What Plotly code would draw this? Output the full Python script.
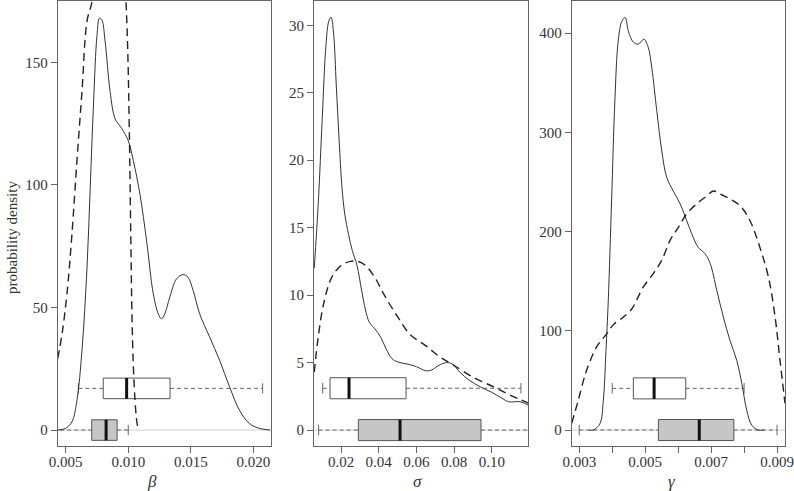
import plotly.graph_objects as go
from plotly.subplots import make_subplots

# beta panel
beta_solid_x = [0.00436, 0.0050, 0.0055, 0.0059, 0.0063, 0.0067, 0.00696, 0.00723, 0.0075, 0.0077,
                0.00789, 0.00815, 0.00855, 0.00895, 0.00948, 0.0100, 0.0104, 0.01094, 0.01147, 0.0120,
                0.0124, 0.01266, 0.01292, 0.01332, 0.01385, 0.01438, 0.01478, 0.01518, 0.01571, 0.0165,
                0.0173, 0.0181, 0.01889, 0.01968, 0.02048, 0.02135]
beta_solid_y = [0, 0.7, 3.4, 12.2, 32.5, 66, 99, 134, 161, 168,
                167.3, 158.5, 138, 127, 123, 118, 110, 96, 77, 55.6,
                47.4, 45.4, 47.4, 54.2, 61.6, 63.4, 62.3, 57, 47.4, 38,
                28.5, 17.6, 8.1, 2.7, 0.7, 0]
beta_dashed_x = [0.00436, 0.00471, 0.0051, 0.0055, 0.0059, 0.0063, 0.0067, 0.00715, 0.0078, 0.0086,
                 0.0093, 0.00982, 0.00996, 0.01009, 0.0102, 0.0103, 0.01041, 0.01054, 0.01067, 0.0108]
beta_dashed_y = [29.1, 39.3, 55.6, 80, 110, 138, 166.7, 176, 225, 260,
                 230, 175, 154.5, 120.6, 80, 46, 25.7, 12.2, 4, 0]
beta_box_white = [0.00601, 0.0080, 0.00987, 0.01334, 0.02074]   # lo, q1, median, q3, hi
beta_box_grey = [0.0040, 0.00708, 0.00823, 0.00911, 0.0100]

# sigma panel
sigma_solid_x = [0.0058, 0.0080, 0.0100, 0.0120, 0.0135, 0.0147, 0.0160, 0.0175, 0.0190, 0.0205,
                 0.0220, 0.0240, 0.0260, 0.0285, 0.0310, 0.0330, 0.0350, 0.0380, 0.0410, 0.0440,
                 0.0470, 0.0500, 0.0550, 0.0600, 0.0650, 0.0680, 0.0720, 0.0760, 0.0790, 0.0830,
                 0.0880, 0.0940, 0.1000, 0.1050, 0.1090, 0.1150, 0.1195]
sigma_solid_y = [12.0, 17.0, 23.0, 28.5, 30.3, 30.6, 29.5, 25.5, 21.5, 18.0,
                 16.0, 14.5, 13.3, 12.2, 10.3, 8.9, 8.0, 7.5, 6.9, 6.0,
                 5.3, 5.05, 4.9, 4.7, 4.4, 4.45, 4.8, 5.0, 4.9, 4.3,
                 3.7, 3.2, 2.8, 2.4, 2.1, 2.1, 1.85]
sigma_dashed_x = [0.0058, 0.0080, 0.0110, 0.0150, 0.0200, 0.0250, 0.0290, 0.0330, 0.0380, 0.0430,
                  0.0500, 0.0566, 0.0655, 0.0726, 0.0788, 0.0903, 0.1010, 0.1097, 0.1195]
sigma_dashed_y = [4.3, 7.0, 9.5, 11.3, 12.2, 12.5, 12.5, 12.2, 11.3, 10.0,
                  8.4, 7.1, 6.2, 5.4, 4.9, 3.9, 3.2, 2.6, 2.0]
sigma_box_white = [0.01028, 0.01416, 0.02425, 0.05452, 0.1155]
sigma_box_grey = [0.00812, 0.02919, 0.05133, 0.0943, 0.1300]

# gamma panel
gamma_solid_x = [0.00330, 0.00343, 0.00363, 0.00373, 0.00381, 0.00388, 0.00398, 0.00408, 0.00418, 0.00429,
                 0.00439, 0.00449, 0.00464, 0.00479, 0.00496, 0.00509, 0.00520, 0.00535, 0.00550, 0.00565,
                 0.00585, 0.00606, 0.00626, 0.00641, 0.00661, 0.00681, 0.00697, 0.00717, 0.00737, 0.00757,
                 0.00778, 0.00793, 0.00808, 0.00823, 0.00843, 0.00860]
gamma_solid_y = [0, 0, 6.7, 30, 80, 131, 231, 332, 392, 412,
                 416, 402, 391, 389, 394, 386, 365, 322, 282, 255,
                 241, 228, 211, 198, 184, 178, 168, 141, 114, 90.5,
                 70, 47, 20, 5, 0, 0]
gamma_dashed_x = [0.00277, 0.00297, 0.00322, 0.00353, 0.00383, 0.00403, 0.00434, 0.00459, 0.00474, 0.00494,
                  0.00525, 0.00550, 0.00575, 0.00600, 0.00626, 0.00656, 0.00687, 0.00707, 0.00727, 0.00757,
                  0.00788, 0.00818, 0.00848, 0.00874, 0.00894, 0.00909, 0.00924]
gamma_dashed_y = [6.7, 30, 60, 84, 97, 106, 114, 122, 131, 144,
                  158, 171, 191, 204, 218, 228, 236, 241, 238, 233,
                  226, 211, 184, 154, 114, 70, 27]
gamma_box_white = [0.0040, 0.00464, 0.00527, 0.00623, 0.0080]
gamma_box_grey = [0.0030, 0.00540, 0.00664, 0.00769, 0.0090]

# layout constants (pixels of a 794x491 page)
W, H = 794, 491
FONT = 'Liberation Serif'
panels = [
    dict(sx=beta_solid_x, sy=beta_solid_y, dx=beta_dashed_x, dy=beta_dashed_y,
         white=beta_box_white, grey=beta_box_grey, white_pos=17, half=4.2,
         xr=[0.00436, 0.02141], yr=[-6.5, 175],
         xt=[0.005, 0.010, 0.015, 0.020], xtt=['0.005', '0.010', '0.015', '0.020'],
         yt=[0, 50, 100, 150], px=(57.7, 271), label='β', lab_x=152),
    dict(sx=sigma_solid_x, sy=sigma_solid_y, dx=sigma_dashed_x, dy=sigma_dashed_y,
         white=sigma_box_white, grey=sigma_box_grey, white_pos=3.1, half=0.78,
         xr=[0.00566, 0.1194], yr=[-1.18, 31.8],
         xt=[0.02, 0.04, 0.06, 0.08, 0.10], xtt=['0.02', '0.04', '0.06', '0.08', '0.10'],
         yt=[0, 5, 10, 15, 20, 25, 30], px=(314, 528.3), label='σ', lab_x=417),
    dict(sx=gamma_solid_x, sy=gamma_solid_y, dx=gamma_dashed_x, dy=gamma_dashed_y,
         white=gamma_box_white, grey=gamma_box_grey, white_pos=42, half=10.6,
         xr=[0.00277, 0.00925], yr=[-16.1, 432.5],
         xt=[0.003, 0.004, 0.005, 0.006, 0.007, 0.008, 0.009],
         xtt=['0.003', '', '0.005', '', '0.007', '', '0.009'],
         yt=[0, 100, 200, 300, 400], px=(571.7, 785.3), label='γ', lab_x=672),
]


def add_box(fig, stats, ypos, half, fill, col):
    lo, q1, med, q3, hi = stats
    cap = half * 0.5
    # dashed whiskers
    fig.add_trace(go.Scatter(x=[lo, q1, None, q3, hi], y=[ypos, ypos, None, ypos, ypos],
                             mode='lines', line=dict(color='#666', width=1, dash='4px,3px'),
                             hoverinfo='skip'), row=1, col=col)
    # staples
    fig.add_trace(go.Scatter(x=[lo, lo, None, hi, hi],
                             y=[ypos - cap, ypos + cap, None, ypos - cap, ypos + cap],
                             mode='lines', line=dict(color='#666', width=1),
                             hoverinfo='skip'), row=1, col=col)
    # box
    fig.add_trace(go.Scatter(x=[q1, q3, q3, q1, q1],
                             y=[ypos - half, ypos - half, ypos + half, ypos + half, ypos - half],
                             mode='lines', fill='toself', fillcolor=fill,
                             line=dict(color='#555', width=1), hoverinfo='skip'), row=1, col=col)
    # median
    fig.add_trace(go.Scatter(x=[med, med], y=[ypos - half, ypos + half], mode='lines',
                             line=dict(color='#111', width=3), hoverinfo='skip'), row=1, col=col)


fig = make_subplots(rows=1, cols=3)

for i, p in enumerate(panels, start=1):
    add_box(fig, p['white'], p['white_pos'], p['half'], 'white', i)
    add_box(fig, p['grey'], 0, p['half'], '#c6c6c6', i)
    fig.add_trace(go.Scatter(x=p['sx'], y=p['sy'], mode='lines', line_shape='spline',
                             line=dict(color='#333', width=1)), row=1, col=i)
    fig.add_trace(go.Scatter(x=p['dx'], y=p['dy'], mode='lines', line_shape='spline',
                             line=dict(color='#222', width=1.4, dash='8px,5px')), row=1, col=i)

    fig.update_xaxes(domain=[p['px'][0] / W, p['px'][1] / W], range=p['xr'],
                     tickvals=p['xt'], ticktext=p['xtt'], row=1, col=i)
    fig.update_yaxes(domain=[1 - 446 / H, 1 - 1 / H], range=p['yr'], tickvals=p['yt'],
                     row=1, col=i)

    # zero line of the density plot
    xref = 'x' if i == 1 else f'x{i}'
    yref = 'y' if i == 1 else f'y{i}'
    fig.add_shape(type='line', xref=f'{xref} domain', yref=yref, x0=0, x1=1, y0=0, y1=0,
                  line=dict(color='#d0d0d0', width=1), layer='below')

    fig.add_annotation(text=f"<i>{p['label']}</i>", xref='paper', yref='paper',
                       x=p['lab_x'] / W, y=1 - 481 / H, xanchor='center', yanchor='middle',
                       showarrow=False, font=dict(family=FONT, size=17, color='#333'))

fig.update_xaxes(showgrid=False, zeroline=False, showline=True, mirror=True,
                 linecolor='#666', linewidth=1, ticks='outside', ticklen=6,
                 tickcolor='#666', automargin=False, ticklabelstandoff=-4,
                 tickfont=dict(family=FONT, size=15, color='#333'))
fig.update_yaxes(showgrid=False, zeroline=False, showline=True, mirror=True,
                 linecolor='#666', linewidth=1, ticks='outside', ticklen=6,
                 tickcolor='#666', automargin=False,
                 tickfont=dict(family=FONT, size=15, color='#333'))

fig.add_annotation(text='probability density', xref='paper', yref='paper',
                   x=12 / W, y=1 - 238 / H, xanchor='center', yanchor='middle',
                   textangle=-90, showarrow=False,
                   font=dict(family=FONT, size=15, color='#333'))

fig.update_layout(
    width=W, height=H,
    margin=dict(l=0, r=0, t=0, b=0),
    showlegend=False,
    paper_bgcolor='white',
    plot_bgcolor='white',
)

# the page body has a default 8px margin; drop it so the figure fills the window
fig.write_html("out.html", config={'displayModeBar': False},
               post_script="document.body.style.margin='0';")
